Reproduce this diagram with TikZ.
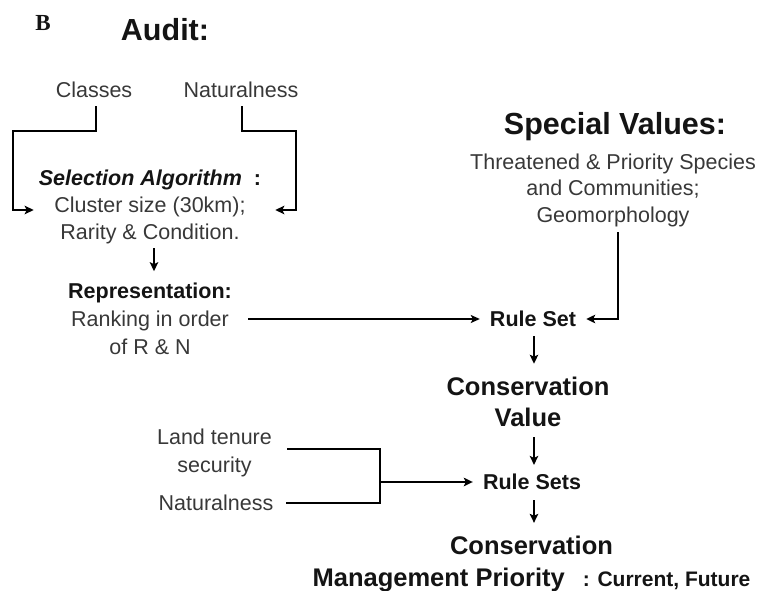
\documentclass[tikz,border=0pt]{standalone}
\usepackage{fontspec}
\setmainfont{Liberation Sans}
\newfontfamily\serifB{Liberation Serif}
\usetikzlibrary{arrows.meta}
\definecolor{txt}{HTML}{383838}
\definecolor{bld}{HTML}{141414}
\tikzset{
  reg/.style={font=\fontsize{21.5}{27}\selectfont, text=txt, inner sep=0pt, align=center},
  regB/.style={font=\fontsize{21.5}{27}\selectfont\bfseries, text=bld, inner sep=0pt, align=center},
  head/.style={font=\fontsize{30.5}{36}\selectfont\bfseries, text=bld, inner sep=0pt},
  mid/.style={font=\fontsize{25.5}{31}\selectfont\bfseries, text=bld, inner sep=0pt, align=center},
  conn/.style={draw=black, line width=2pt, line join=miter, -{Stealth[length=9pt,width=8.5pt,inset=2pt]}},
  thinconn/.style={draw=black, line width=1.3pt, -{Stealth[length=9pt,width=8pt,inset=2pt]}},
  brk/.style={draw=black, line width=2.4pt, line join=miter}
}
\begin{document}
\begin{tikzpicture}[x=1pt,y=-1pt]
\useasboundingbox (0,0) rectangle (761,591);

% labels
\node[inner sep=0pt, font=\serifB\fontsize{23}{23}\selectfont\bfseries, text=bld] (lbl) at (43,23) {B};
\node[head] (audit) at (165,30) {Audit:};

% audit inputs
\node[reg] (cls) at (94,90) {Classes};
\node[reg] (nat) at (241,90) {Naturalness};

\node[reg] (sel) at (150,207) {{\bfseries\itshape\color{bld}Selection Algorithm}\hspace{12pt}{\bfseries\color{bld}:}\\Cluster size (30km);\\Rarity \& Condition.};

\node[reg, font=\fontsize{21.5}{28}\selectfont] (rep) at (150,319) {{\bfseries\color{bld}Representation:}\\Ranking in order\\of R \& N};

% special values
\node[head] (svt) at (615,127) {Special Values:};
\node[reg, font=\fontsize{21.5}{26.5}\selectfont] (svb) at (613,190.4) {Threatened \& Priority Species\\and Communities;\\Geomorphology};

\node[regB] (rs) at (533,319) {Rule Set};
\node[mid] (cv) at (528,402.3) {Conservation\\Value};

% management inputs
\node[reg, font=\fontsize{21.5}{28}\selectfont] (lt) at (214.5,453) {Land tenure\\security};
\node[reg] (nt) at (216,503) {Naturalness};
\coordinate (jn) at (380,482);

\node[regB] (rss) at (532,482) {Rule Sets};
\node[mid, font=\fontsize{25.5}{32}\selectfont\bfseries] (cmp) at (531.5,563.5) {Conservation\\Management Priority\hspace{18pt}{\fontsize{21}{21}\selectfont : Current, Future}};

% connectors
\draw[conn] ([xshift=2,yshift=-8]cls.south) |- (13,131) |- ([xshift=-5,yshift=-3]sel.west);
\draw[conn] ([xshift=1,yshift=-8]nat.south) |- (296,131) |- ([xshift=14,yshift=-3]sel.east);
\draw[conn] ([xshift=4,yshift=-4]sel.south) -- ([xshift=4,yshift=11.7]rep.north);
\draw[thinconn] ([xshift=16]rep.east) -- ([xshift=-10]rs.west);
\draw[conn] ([xshift=5,yshift=-5]svb.south) |- ([xshift=10]rs.east);
\draw[conn] ([xshift=1,yshift=-9]rs.south) -- ([xshift=6,yshift=13.5]cv.north);
\draw[conn] ([xshift=6,yshift=-10]cv.south) -- ([xshift=2,yshift=9]rss.north);
\draw[brk] ([xshift=15,yshift=4]lt.east) -| (jn) |- ([xshift=12]nt.east);
\draw[conn] (jn) -- ([xshift=-10]rss.west);
\draw[conn] ([xshift=2,yshift=-10]rss.south) -- ([xshift=2.5,yshift=12.5]cmp.north);
\end{tikzpicture}
\end{document}
